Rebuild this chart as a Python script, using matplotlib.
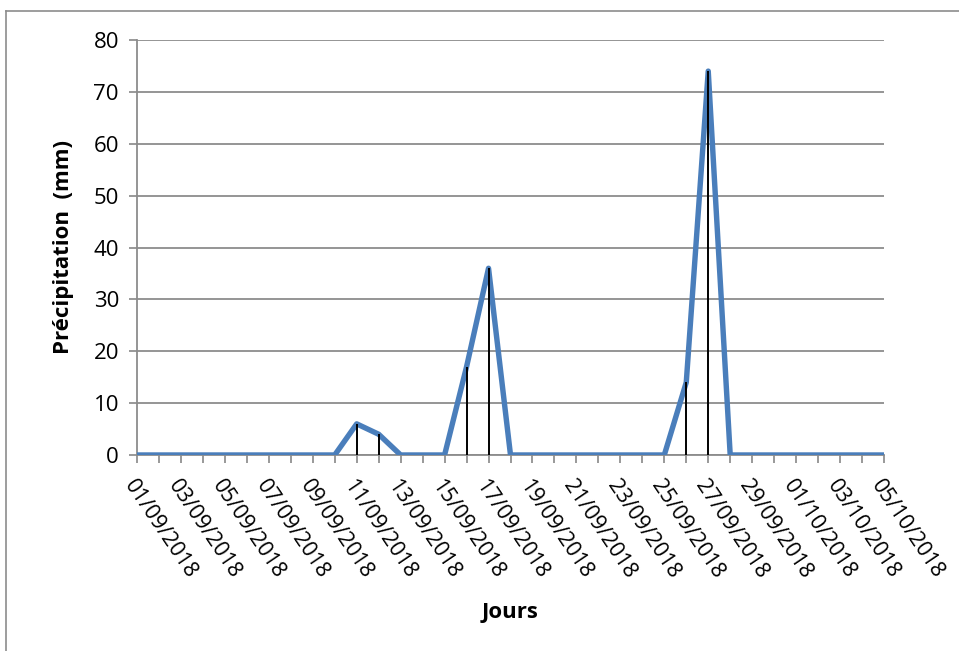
import matplotlib
matplotlib.use("Agg")
import matplotlib.pyplot as plt
from matplotlib.lines import Line2D
import numpy as np

# daily rainfall, 01/09/2018 -> 05/10/2018
days = ["%02d/09/2018" % d for d in range(1, 31)] + ["%02d/10/2018" % d for d in range(1, 6)]
rain = [0, 0, 0, 0, 0, 0, 0, 0, 0, 0,
        6, 4, 0, 0, 0, 17, 36, 0, 0, 0,
        0, 0, 0, 0, 0, 14, 74, 0, 0, 0,
        0, 0, 0, 0, 0]
yticks = [0, 10, 20, 30, 40, 50, 60, 70, 80]

plt.rcParams['font.family'] = ['Open Sans', 'DejaVu Sans']

fig = plt.figure(figsize=(9.59, 6.51), dpi=100)
ax = fig.add_axes([137 / 959, 1 - 455 / 651, (884 - 137) / 959, (455 - 40) / 651])

x = np.arange(len(days))
rain = np.array(rain)

ax.plot(x, rain, color='#4A7EBB', lw=3.9, solid_joinstyle='round', zorder=3)
nz = rain > 0
ax.vlines(x[nz], 0, rain[nz], color='black', lw=1.4, zorder=4)

ax.set_xlim(0, len(days) - 1)
ax.set_ylim(0, 80)
ax.set_yticks(yticks)
ax.tick_params(axis='y', labelsize=16, length=6, color='#888888', width=1.2, pad=7)
ax.grid(axis='y', color='#8c8c8c', lw=1.3)
ax.set_axisbelow(True)

ax.set_xticks(x)
ax.set_xticklabels([d if i % 2 == 0 else '' for i, d in enumerate(days)],
                   rotation=-56, ha='left', va='top', rotation_mode='anchor', fontsize=15.5)
ax.tick_params(axis='x', length=6, color='#888888', width=1.2, pad=9)

for s in ['top', 'right']:
    ax.spines[s].set_visible(False)
for s in ['left', 'bottom']:
    ax.spines[s].set_color('#8c8c8c')
    ax.spines[s].set_linewidth(1.3)

ax.set_ylabel('Précipitation  (mm)', fontsize=16, fontweight='bold', labelpad=14)
ax.set_xlabel('Jours', fontsize=16, fontweight='bold', labelpad=14)

# outer chart frame (left and top edges)
fig.add_artist(Line2D([6 / 959, 6 / 959], [0, 1 - 11 / 651], transform=fig.transFigure,
                      color='#8c8c8c', lw=1.2))
fig.add_artist(Line2D([6 / 959, 1], [1 - 11 / 651, 1 - 11 / 651], transform=fig.transFigure,
                      color='#8c8c8c', lw=1.2))

fig.savefig('out.png', dpi=100)
